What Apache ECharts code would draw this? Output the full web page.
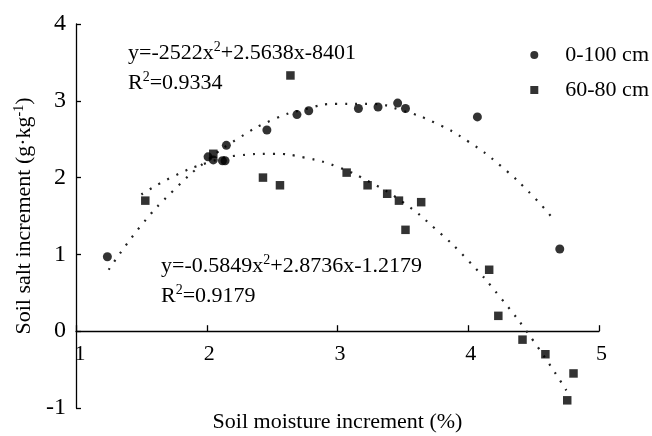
<!DOCTYPE html>
<html><head><meta charset="utf-8">
<script src="https://cdn.jsdelivr.net/npm/echarts@6/dist/echarts.min.js"></script>
<style>html,body{margin:0;padding:0;background:#fff}#c{width:652px;height:436px}</style>
</head><body><div id="c"></div>
<script>
// 0-100 cm points (moisture %, salt g/kg)
const deepX = [1.24, 2.01, 2.05, 2.12, 2.14, 2.15, 2.46, 2.69, 2.78, 3.16, 3.31, 3.46, 3.52, 4.07, 4.70];
const deepY = [0.97, 2.27, 2.23, 2.22, 2.22, 2.42, 2.62, 2.82, 2.87, 2.90, 2.92, 2.97, 2.90, 2.79, 1.07];
// 60-80 cm points
const midX = [1.53, 2.05, 2.43, 2.56, 2.64, 3.07, 3.23, 3.38, 3.47, 3.52, 3.64, 4.16, 4.23, 4.415, 4.59, 4.805, 4.757];
const midY = [1.70, 2.31, 2.00, 1.90, 3.33, 2.065, 1.90, 1.79, 1.70, 1.32, 1.68, 0.80, 0.20, -0.11, -0.30, -0.55, -0.90];
// dotted trend curves
const fit1X = [1.25, 1.5, 1.75, 2.0, 2.25, 2.5, 2.75, 3.0, 3.25, 3.5, 3.75, 4.0, 4.25, 4.5, 4.65];
const fit1Y = [0.80, 1.38, 1.84, 2.22, 2.52, 2.75, 2.89, 2.96, 2.96, 2.87, 2.71, 2.47, 2.15, 1.75, 1.46];
const fit2X = [1.5, 1.75, 2.0, 2.25, 2.5, 2.75, 3.0, 3.25, 3.5, 3.75, 4.0, 4.25, 4.5, 4.75];
const fit2Y = [1.78, 2.02, 2.19, 2.29, 2.31, 2.26, 2.14, 1.94, 1.68, 1.33, 0.92, 0.43, -0.13, -0.77];
const xTicks = [1, 2, 3, 4, 5];
const yTicks = [-1, 0, 1, 2, 3, 4];
const legendNames = ['0-100 cm', '60-80 cm'];

const zip = (a, b) => a.map((v, i) => [v, b[i]]);
const F = 'Liberation Serif, Times New Roman, serif';
const chart = echarts.init(document.getElementById('c'), null, {renderer: 'canvas'});
const dotted = {color: '#222', width: 2.2, type: [2, 8]};
const gridTop = 24, gridBottom = 28, H = 436;
const plotH = H - gridTop - gridBottom;
// shift the x axis up so it crosses y = 0 (position derived from the axis range)
const zeroOffset = -plotH * (0 - yTicks[0]) / (yTicks[yTicks.length - 1] - yTicks[0]);
chart.setOption({
  animation: false,
  backgroundColor: '#fff',
  grid: {left: 76, right: 53, top: gridTop, bottom: gridBottom, containLabel: false, outerBoundsMode: 'none'},
  legend: {
    orient: 'vertical', right: 3, top: 44, itemWidth: 52, itemHeight: 8, itemGap: 13, padding: 0,
    symbolKeepAspect: true,
    data: [
      {name: legendNames[0], icon: 'circle'},
      {name: legendNames[1], icon: 'path://M0,0H10V10H0Z'}
    ],
    textStyle: {fontFamily: F, fontSize: 22, color: '#000', lineHeight: 22}
  },
  xAxis: {
    type: 'value', min: xTicks[0], max: xTicks[xTicks.length - 1], interval: 1,
    position: 'bottom', offset: zeroOffset,
    axisLine: {onZero: false, lineStyle: {color: '#000', width: 1.3}},
    axisTick: {inside: true, length: 6, lineStyle: {color: '#000', width: 1.3}},
    axisLabel: {fontFamily: F, fontSize: 22, color: '#000', margin: 12,
      formatter: v => v === xTicks[0] ? '{f|' + v + '}' : '{n|' + v + '}',
      rich: {f: {fontFamily: F, fontSize: 22, color: '#000', padding: [0, 0, 0, 8]},
             n: {fontFamily: F, fontSize: 22, color: '#000', padding: [0, 0, 0, 5]}}},
    splitLine: {show: false},
    name: 'Soil moisture increment (%)', nameLocation: 'middle', nameGap: 80,
    nameTextStyle: {fontFamily: F, fontSize: 22, color: '#000'}
  },
  yAxis: {
    type: 'value', min: yTicks[0], max: yTicks[yTicks.length - 1], interval: 1,
    axisLine: {show: true, lineStyle: {color: '#000', width: 1.3}},
    axisTick: {show: true, inside: true, length: 5, lineStyle: {color: '#000', width: 1.3}},
    axisLabel: {fontFamily: F, fontSize: 24, color: '#000', margin: 10},
    splitLine: {show: false},
    name: '{a|Soil salt increment (g·kg}{s|-1}{a|)}', nameLocation: 'middle', nameGap: 31, nameRotate: 90,
    nameTextStyle: {rich: {
      a: {fontFamily: F, fontSize: 22, color: '#000'},
      s: {fontFamily: F, fontSize: 14, color: '#000', verticalAlign: 'top', padding: [0, 0, 10, 0]}
    }}
  },
  series: [
    {name: legendNames[0], type: 'scatter', symbol: 'circle', symbolSize: 9, itemStyle: {color: '#000'}, data: zip(deepX, deepY), z: 3},
    {name: legendNames[1], type: 'scatter', symbol: 'rect', symbolSize: 8.5, itemStyle: {color: '#000'}, data: zip(midX, midY), z: 3},
    {type: 'line', smooth: true, symbol: 'none', lineStyle: dotted, data: zip(fit1X, fit1Y), z: 2},
    {type: 'line', smooth: true, symbol: 'none', lineStyle: dotted, data: zip(fit2X, fit2Y), z: 2}
  ],
  graphic: [
    {type: 'text', left: 128, top: 40, style: {
      text: '{a|y=-2522x}{s|2}{a|+2.5638x-8401}\n{a|R}{s|2}{a|=0.9334}',
      rich: {a: {fontFamily: F, fontSize: 22, fill: '#000', lineHeight: 30},
             s: {fontFamily: F, fontSize: 14, fill: '#000', lineHeight: 30, padding: [0, 0, 12, 0]}}
    }},
    {type: 'text', left: 161, top: 253, style: {
      text: '{a|y=-0.5849x}{s|2}{a|+2.8736x-1.2179}\n{a|R}{s|2}{a|=0.9179}',
      rich: {a: {fontFamily: F, fontSize: 22, fill: '#000', lineHeight: 30},
             s: {fontFamily: F, fontSize: 14, fill: '#000', lineHeight: 30, padding: [0, 0, 12, 0]}}
    }}
  ]
});
</script></body></html>
